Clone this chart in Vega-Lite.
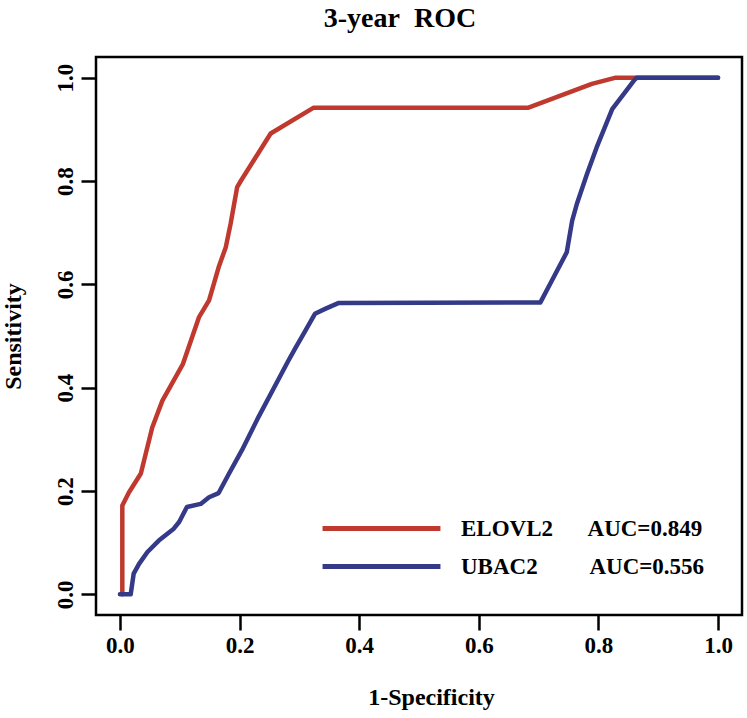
{
  "$schema": "https://vega.github.io/schema/vega-lite/v6.json",
  "width": 646,
  "height": 558,
  "padding": {"left": 1, "top": 5, "right": 4, "bottom": 5},
  "background": "white",
  "title": {
    "text": "3-year\u00a0 ROC",
    "font": "Liberation Serif",
    "fontSize": 28,
    "fontWeight": "bold",
    "color": "black",
    "offset": 24,
    "dx": -19
  },
  "config": {
    "view": {"stroke": "black", "strokeWidth": 2.5},
    "axis": {
      "domain": false,
      "grid": false,
      "ticks": true,
      "tickColor": "black",
      "tickWidth": 2.5,
      "tickSize": 15,
      "labelFont": "Liberation Serif",
      "labelFontWeight": "bold",
      "labelFontSize": 23,
      "labelColor": "black",
      "titleFont": "Liberation Serif",
      "titleFontWeight": "bold",
      "titleFontSize": 24,
      "titleColor": "black"
    }
  },
  "data": {
    "values": [
      {"series": "ELOVL2", "i": 0, "fpr": 0.004, "tpr": 0.0},
      {"series": "ELOVL2", "i": 1, "fpr": 0.004, "tpr": 0.172},
      {"series": "ELOVL2", "i": 2, "fpr": 0.015, "tpr": 0.197},
      {"series": "ELOVL2", "i": 3, "fpr": 0.035, "tpr": 0.234},
      {"series": "ELOVL2", "i": 4, "fpr": 0.054, "tpr": 0.323},
      {"series": "ELOVL2", "i": 5, "fpr": 0.071, "tpr": 0.375},
      {"series": "ELOVL2", "i": 6, "fpr": 0.105, "tpr": 0.445},
      {"series": "ELOVL2", "i": 7, "fpr": 0.132, "tpr": 0.536},
      {"series": "ELOVL2", "i": 8, "fpr": 0.149, "tpr": 0.569},
      {"series": "ELOVL2", "i": 9, "fpr": 0.165, "tpr": 0.633},
      {"series": "ELOVL2", "i": 10, "fpr": 0.177, "tpr": 0.672},
      {"series": "ELOVL2", "i": 11, "fpr": 0.185, "tpr": 0.717},
      {"series": "ELOVL2", "i": 12, "fpr": 0.196, "tpr": 0.788},
      {"series": "ELOVL2", "i": 13, "fpr": 0.202, "tpr": 0.8},
      {"series": "ELOVL2", "i": 14, "fpr": 0.252, "tpr": 0.892},
      {"series": "ELOVL2", "i": 15, "fpr": 0.324, "tpr": 0.942},
      {"series": "ELOVL2", "i": 16, "fpr": 0.683, "tpr": 0.942},
      {"series": "ELOVL2", "i": 17, "fpr": 0.789, "tpr": 0.988},
      {"series": "ELOVL2", "i": 18, "fpr": 0.829, "tpr": 1.0},
      {"series": "ELOVL2", "i": 19, "fpr": 1.0, "tpr": 1.0},
      {"series": "UBAC2", "i": 0, "fpr": 0.0, "tpr": 0.0},
      {"series": "UBAC2", "i": 1, "fpr": 0.018, "tpr": 0.0},
      {"series": "UBAC2", "i": 2, "fpr": 0.023, "tpr": 0.04},
      {"series": "UBAC2", "i": 3, "fpr": 0.032, "tpr": 0.059},
      {"series": "UBAC2", "i": 4, "fpr": 0.046, "tpr": 0.082},
      {"series": "UBAC2", "i": 5, "fpr": 0.065, "tpr": 0.104},
      {"series": "UBAC2", "i": 6, "fpr": 0.09, "tpr": 0.127},
      {"series": "UBAC2", "i": 7, "fpr": 0.099, "tpr": 0.14},
      {"series": "UBAC2", "i": 8, "fpr": 0.112, "tpr": 0.169},
      {"series": "UBAC2", "i": 9, "fpr": 0.135, "tpr": 0.175},
      {"series": "UBAC2", "i": 10, "fpr": 0.149, "tpr": 0.188},
      {"series": "UBAC2", "i": 11, "fpr": 0.165, "tpr": 0.196},
      {"series": "UBAC2", "i": 12, "fpr": 0.182, "tpr": 0.233},
      {"series": "UBAC2", "i": 13, "fpr": 0.204, "tpr": 0.279},
      {"series": "UBAC2", "i": 14, "fpr": 0.232, "tpr": 0.344},
      {"series": "UBAC2", "i": 15, "fpr": 0.282, "tpr": 0.453},
      {"series": "UBAC2", "i": 16, "fpr": 0.294, "tpr": 0.478},
      {"series": "UBAC2", "i": 17, "fpr": 0.307, "tpr": 0.504},
      {"series": "UBAC2", "i": 18, "fpr": 0.326, "tpr": 0.543},
      {"series": "UBAC2", "i": 19, "fpr": 0.344, "tpr": 0.553},
      {"series": "UBAC2", "i": 20, "fpr": 0.366, "tpr": 0.564},
      {"series": "UBAC2", "i": 21, "fpr": 0.703, "tpr": 0.565},
      {"series": "UBAC2", "i": 22, "fpr": 0.722, "tpr": 0.607},
      {"series": "UBAC2", "i": 23, "fpr": 0.747, "tpr": 0.662},
      {"series": "UBAC2", "i": 24, "fpr": 0.756, "tpr": 0.723},
      {"series": "UBAC2", "i": 25, "fpr": 0.764, "tpr": 0.756},
      {"series": "UBAC2", "i": 26, "fpr": 0.781, "tpr": 0.814},
      {"series": "UBAC2", "i": 27, "fpr": 0.797, "tpr": 0.865},
      {"series": "UBAC2", "i": 28, "fpr": 0.823, "tpr": 0.939},
      {"series": "UBAC2", "i": 29, "fpr": 0.859, "tpr": 0.994},
      {"series": "UBAC2", "i": 30, "fpr": 0.864, "tpr": 1.0},
      {"series": "UBAC2", "i": 31, "fpr": 1.0, "tpr": 1.0}
    ]
  },
  "mark": {"type": "line", "strokeWidth": 4.5, "strokeCap": "round", "strokeJoin": "round"},
  "encoding": {
    "x": {
      "field": "fpr",
      "type": "quantitative",
      "scale": {"domain": [-0.04, 1.04], "nice": false, "zero": false},
      "axis": {"values": [0, 0.2, 0.4, 0.6, 0.8, 1.0], "format": ".1f", "labelPadding": 4, "title": "1-Specificity", "titlePadding": 28, "titleX": 335}
    },
    "y": {
      "field": "tpr",
      "type": "quantitative",
      "scale": {"domain": [-0.04, 1.04], "nice": false, "zero": false},
      "axis": {"values": [0, 0.2, 0.4, 0.6, 0.8, 1.0], "format": ".1f", "labelAngle": -90, "labelAlign": "center", "labelBaseline": "bottom", "labelPadding": 4, "title": "Sensitivity", "titlePadding": 29}
    },
    "order": {"field": "i", "type": "quantitative"},
    "color": {
      "field": "series",
      "type": "nominal",
      "scale": {"domain": ["ELOVL2", "UBAC2"], "range": ["#C0392F", "#353A88"]},
      "legend": {
        "orient": "none",
        "legendX": 274,
        "legendY": 460,
        "title": null,
        "padding": 0,
        "symbolType": "M-10,0H10",
        "symbolSize": 139,
        "symbolStrokeWidth": 5,
        "symbolFillColor": "transparent",
        "labelOffset": 68,
        "rowPadding": 14,
        "labelFont": "Liberation Serif",
        "labelFontWeight": "bold",
        "labelFontSize": 23,
        "labelColor": "black",
        "labelLimit": 0,
        "labelExpr": "datum.label == 'ELOVL2' ? 'ELOVL2\u00a0\u00a0\u00a0\u00a0\u00a0\u00a0AUC=0.849' : 'UBAC2\u00a0\u00a0\u00a0\u00a0\u00a0\u00a0\u00a0\u00a0\u00a0AUC=0.556'"
      }
    }
  }
}
